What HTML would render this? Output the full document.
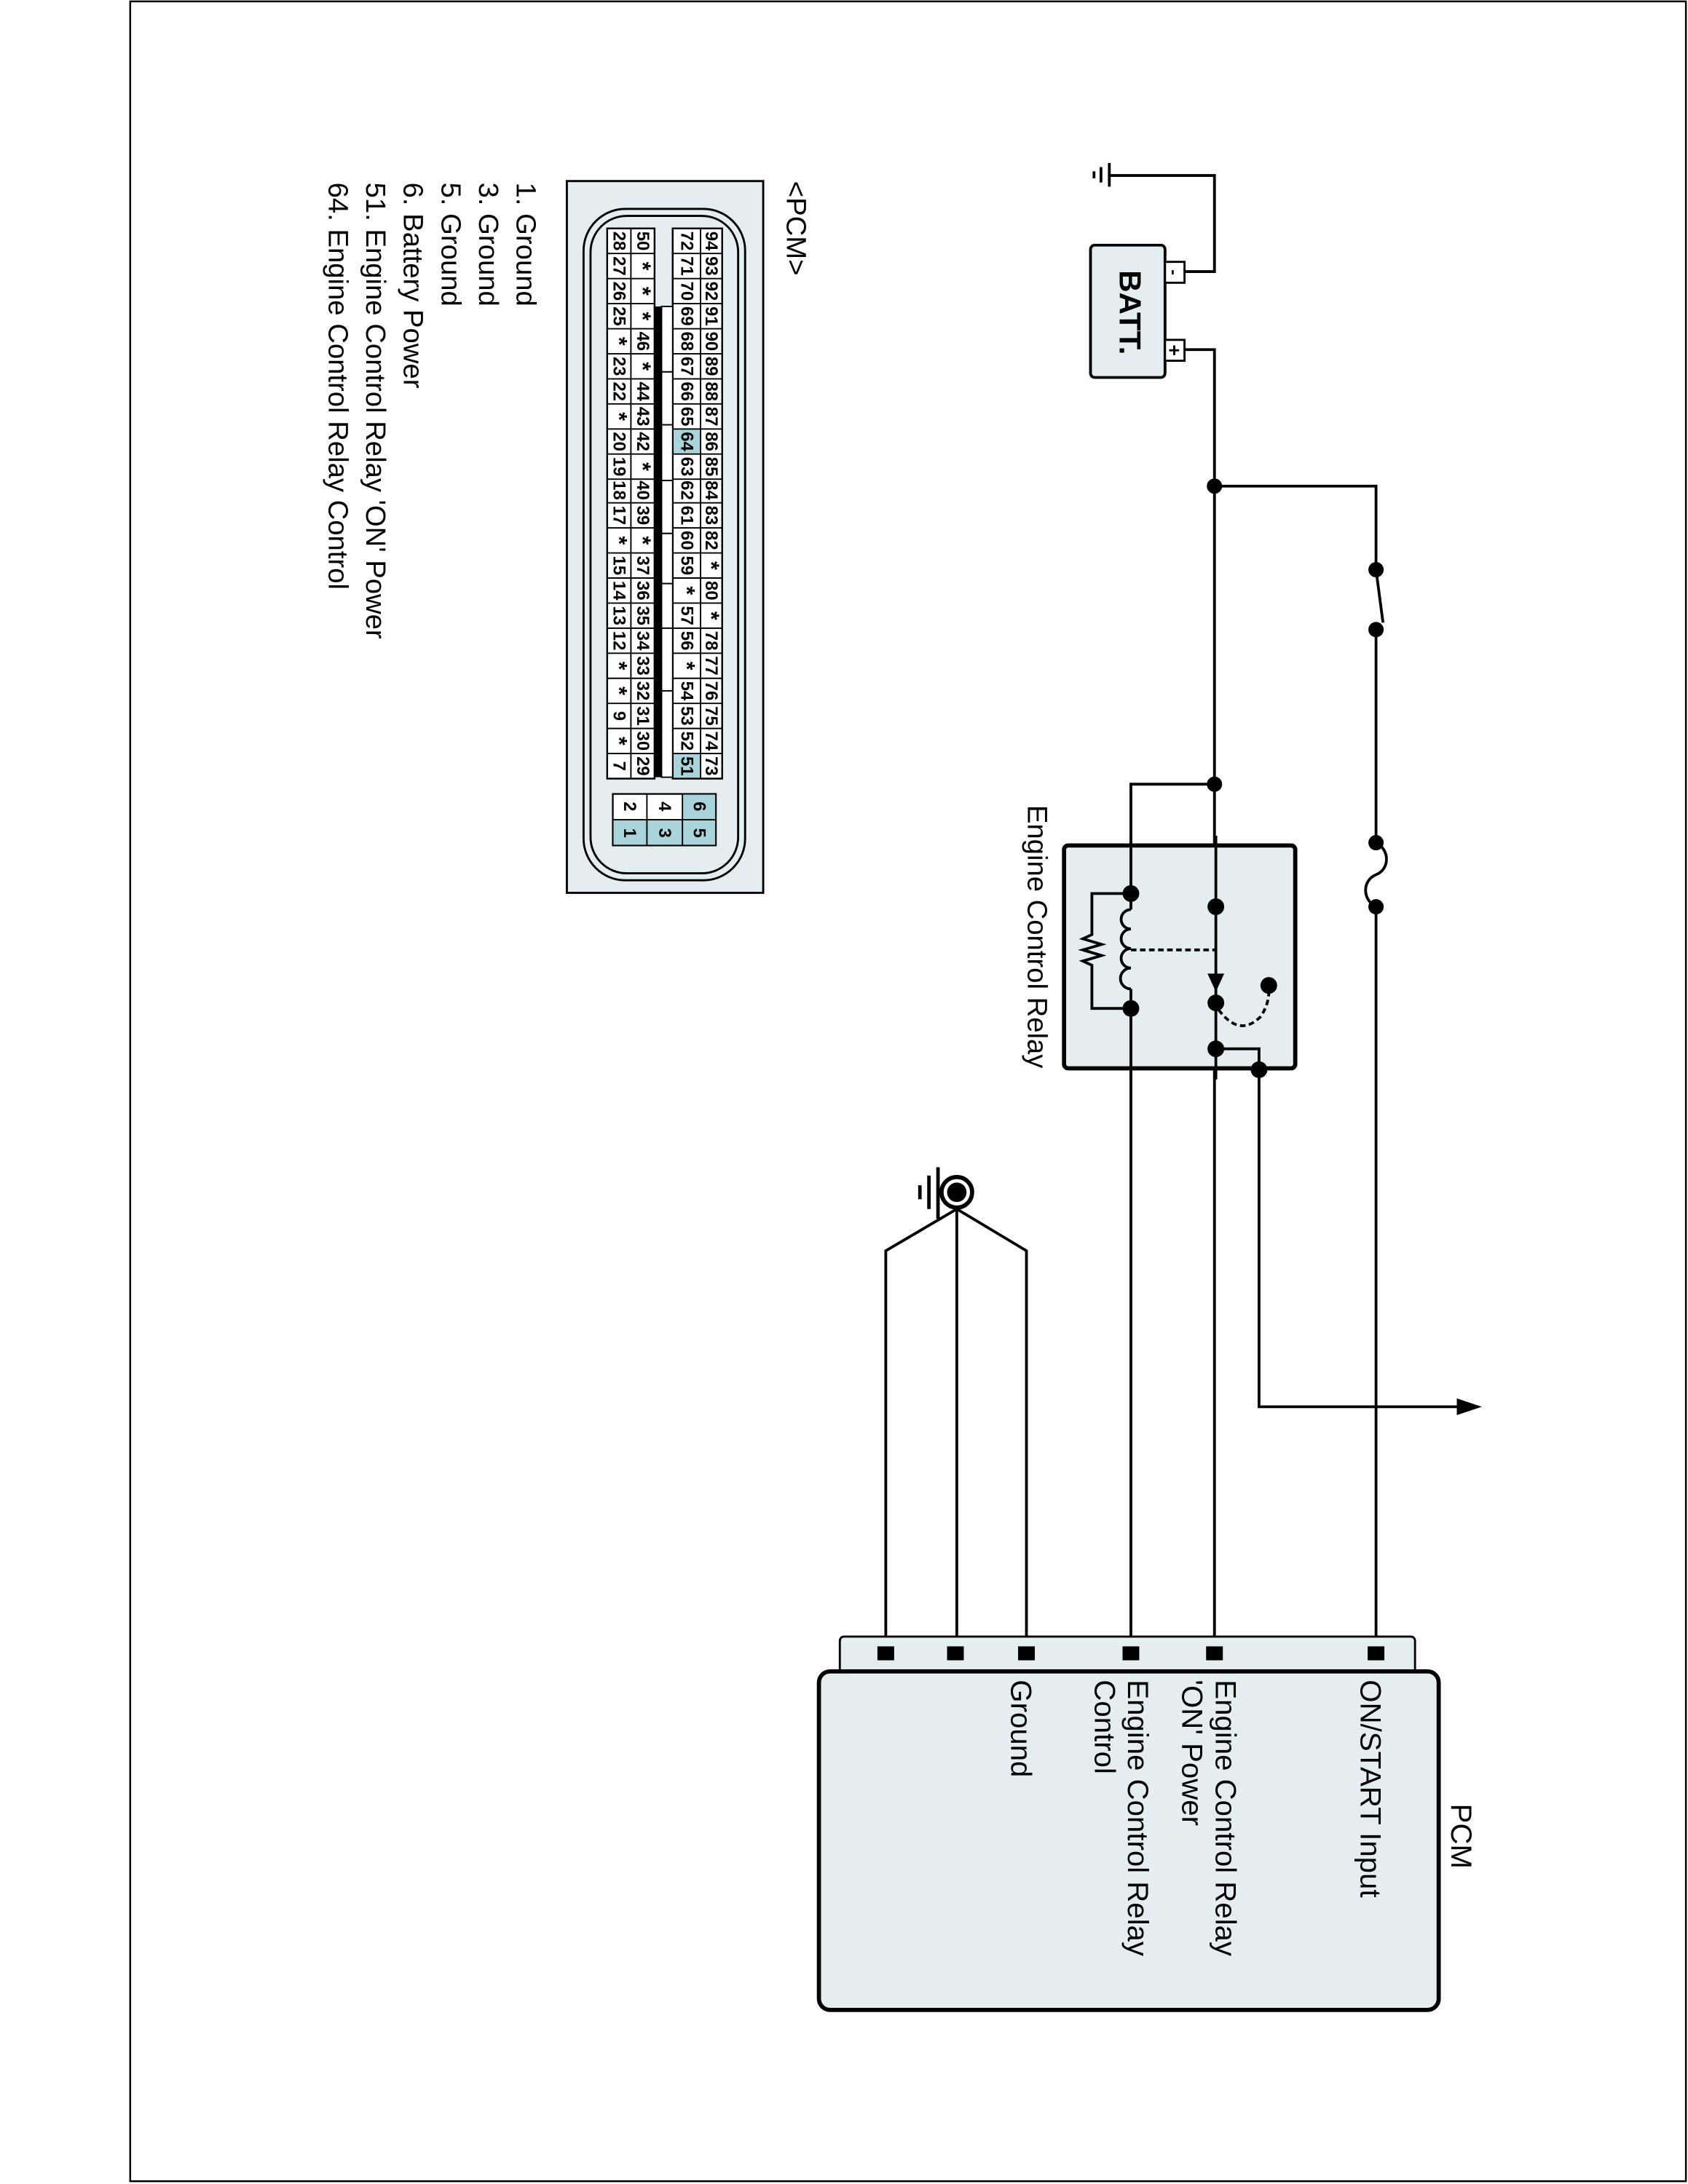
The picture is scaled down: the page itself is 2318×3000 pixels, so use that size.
<!DOCTYPE html>
<html><head><meta charset="utf-8"><style>
html,body{margin:0;padding:0;background:#fff;}
svg{display:block;}
text{font-family:"Liberation Sans",Arial,sans-serif;fill:#000;}
.c{font-size:12.5px;font-weight:bold;}
.s{font-size:16px;font-weight:bold;}
</style></head><body>
<svg width="2318" height="3000" viewBox="0 0 1212 1568" preserveAspectRatio="none" xmlns="http://www.w3.org/2000/svg">
<rect x="0" y="0" width="1212" height="1568" fill="#fff"/>
<rect x="93.5" y="1" width="1117" height="1565" fill="none" stroke="#000" stroke-width="1.3"/>

<g font-size="20">
<text transform="translate(371,131) rotate(90)">1. Ground</text>
<text transform="translate(344,131) rotate(90)">3. Ground</text>
<text transform="translate(317,131) rotate(90)">5. Ground</text>
<text transform="translate(290,131) rotate(90)">6. Battery Power</text>
<text transform="translate(263,131) rotate(90)">51. Engine Control Relay 'ON' Power</text>
<text transform="translate(236,131) rotate(90)">64. Engine Control Relay Control</text>
</g>
<text transform="translate(565,130) rotate(90)" font-size="20">&lt;PCM&gt;</text>

<rect x="407" y="130" width="141" height="511" fill="#e4eef0" stroke="#000" stroke-width="1.5"/>
<rect x="419" y="150" width="116" height="482" rx="30" fill="none" stroke="#000" stroke-width="1.5"/>
<rect x="424" y="155" width="106" height="472" rx="26" fill="none" stroke="#000" stroke-width="1.5"/>
<rect x="436" y="164" width="34" height="395" fill="#fff" stroke="#000" stroke-width="1.2"/>
<rect x="483" y="164" width="35.5" height="395" fill="#fff" stroke="#000" stroke-width="1.2"/>
<rect x="483" y="307.6" width="20" height="17.95" fill="#a9d4dc"/>
<rect x="483" y="541" width="20" height="18" fill="#a9d4dc"/>
<rect x="436" y="164" width="34" height="395" fill="none" stroke="#000" stroke-width="1.2"/>
<rect x="483" y="164" width="35.5" height="395" fill="none" stroke="#000" stroke-width="1.2"/>
<line x1="453" y1="164" x2="453" y2="559" stroke="#000" stroke-width="1"/>
<line x1="503" y1="164" x2="503" y2="559" stroke="#000" stroke-width="1"/>
<g stroke="#000" stroke-width="1">
<line x1="436" x2="470" y1="182" y2="182"/><line x1="436" x2="470" y1="200" y2="200"/><line x1="436" x2="470" y1="218" y2="218"/><line x1="436" x2="470" y1="236" y2="236"/><line x1="436" x2="470" y1="254" y2="254"/><line x1="436" x2="470" y1="272" y2="272"/><line x1="436" x2="470" y1="290" y2="290"/><line x1="436" x2="470" y1="308" y2="308"/><line x1="436" x2="470" y1="326" y2="326"/><line x1="436" x2="470" y1="344" y2="344"/><line x1="436" x2="470" y1="361" y2="361"/><line x1="436" x2="470" y1="379" y2="379"/><line x1="436" x2="470" y1="397" y2="397"/><line x1="436" x2="470" y1="415" y2="415"/><line x1="436" x2="470" y1="433" y2="433"/><line x1="436" x2="470" y1="451" y2="451"/><line x1="436" x2="470" y1="469" y2="469"/><line x1="436" x2="470" y1="487" y2="487"/><line x1="436" x2="470" y1="505" y2="505"/><line x1="436" x2="470" y1="523" y2="523"/><line x1="436" x2="470" y1="541" y2="541"/>
<line x1="483" x2="518.5" y1="182" y2="182"/><line x1="483" x2="518.5" y1="200" y2="200"/><line x1="483" x2="518.5" y1="218" y2="218"/><line x1="483" x2="518.5" y1="236" y2="236"/><line x1="483" x2="518.5" y1="254" y2="254"/><line x1="483" x2="518.5" y1="272" y2="272"/><line x1="483" x2="518.5" y1="290" y2="290"/><line x1="483" x2="518.5" y1="308" y2="308"/><line x1="483" x2="518.5" y1="326" y2="326"/><line x1="483" x2="518.5" y1="344" y2="344"/><line x1="483" x2="518.5" y1="361" y2="361"/><line x1="483" x2="518.5" y1="379" y2="379"/><line x1="483" x2="518.5" y1="397" y2="397"/><line x1="483" x2="518.5" y1="415" y2="415"/><line x1="483" x2="518.5" y1="433" y2="433"/><line x1="483" x2="518.5" y1="451" y2="451"/><line x1="483" x2="518.5" y1="469" y2="469"/><line x1="483" x2="518.5" y1="487" y2="487"/><line x1="483" x2="518.5" y1="505" y2="505"/><line x1="483" x2="518.5" y1="523" y2="523"/><line x1="483" x2="518.5" y1="541" y2="541"/>
</g>
<g>
<rect x="470" y="220" width="5" height="338" fill="#000"/>
<rect x="475" y="220" width="8" height="47" fill="#fff" stroke="#000" stroke-width="1"/>
<rect x="475" y="267" width="8" height="38" fill="#fff" stroke="#000" stroke-width="1"/>
<rect x="475" y="305" width="8" height="40" fill="#fff" stroke="#000" stroke-width="1"/>
<rect x="475" y="345" width="8" height="38" fill="#fff" stroke="#000" stroke-width="1"/>
<rect x="475" y="383" width="8" height="36" fill="#fff" stroke="#000" stroke-width="1"/>
<rect x="475" y="419" width="8" height="32" fill="#fff" stroke="#000" stroke-width="1"/>
<rect x="475" y="451" width="8" height="45" fill="#fff" stroke="#000" stroke-width="1"/>
<rect x="475" y="496" width="8" height="62" fill="#fff" stroke="#000" stroke-width="1"/>
</g>
<g class="c" text-anchor="middle" dominant-baseline="central">
<text transform="translate(510.5,173) rotate(90)">94</text><text transform="translate(510.5,191) rotate(90)">93</text><text transform="translate(510.5,209) rotate(90)">92</text><text transform="translate(510.5,227) rotate(90)">91</text><text transform="translate(510.5,245) rotate(90)">90</text><text transform="translate(510.5,263) rotate(90)">89</text><text transform="translate(510.5,281) rotate(90)">88</text><text transform="translate(510.5,299) rotate(90)">87</text><text transform="translate(510.5,317) rotate(90)">86</text><text transform="translate(510.5,335) rotate(90)">85</text><text transform="translate(510.5,352) rotate(90)">84</text><text transform="translate(510.5,370) rotate(90)">83</text><text transform="translate(510.5,388) rotate(90)">82</text><text class="s" transform="translate(510.5,406) rotate(90)">*</text><text transform="translate(510.5,424) rotate(90)">80</text><text class="s" transform="translate(510.5,442) rotate(90)">*</text><text transform="translate(510.5,460) rotate(90)">78</text><text transform="translate(510.5,478) rotate(90)">77</text><text transform="translate(510.5,496) rotate(90)">76</text><text transform="translate(510.5,514) rotate(90)">75</text><text transform="translate(510.5,532) rotate(90)">74</text><text transform="translate(510.5,550) rotate(90)">73</text>
<text transform="translate(493,173) rotate(90)">72</text><text transform="translate(493,191) rotate(90)">71</text><text transform="translate(493,209) rotate(90)">70</text><text transform="translate(493,227) rotate(90)">69</text><text transform="translate(493,245) rotate(90)">68</text><text transform="translate(493,263) rotate(90)">67</text><text transform="translate(493,281) rotate(90)">66</text><text transform="translate(493,299) rotate(90)">65</text><text transform="translate(493,317) rotate(90)">64</text><text transform="translate(493,335) rotate(90)">63</text><text transform="translate(493,352) rotate(90)">62</text><text transform="translate(493,370) rotate(90)">61</text><text transform="translate(493,388) rotate(90)">60</text><text transform="translate(493,406) rotate(90)">59</text><text class="s" transform="translate(493,424) rotate(90)">*</text><text transform="translate(493,442) rotate(90)">57</text><text transform="translate(493,460) rotate(90)">56</text><text class="s" transform="translate(493,478) rotate(90)">*</text><text transform="translate(493,496) rotate(90)">54</text><text transform="translate(493,514) rotate(90)">53</text><text transform="translate(493,532) rotate(90)">52</text><text transform="translate(493,550) rotate(90)">51</text>
<text transform="translate(461.5,173) rotate(90)">50</text><text class="s" transform="translate(461.5,191) rotate(90)">*</text><text class="s" transform="translate(461.5,209) rotate(90)">*</text><text class="s" transform="translate(461.5,227) rotate(90)">*</text><text transform="translate(461.5,245) rotate(90)">46</text><text class="s" transform="translate(461.5,263) rotate(90)">*</text><text transform="translate(461.5,281) rotate(90)">44</text><text transform="translate(461.5,299) rotate(90)">43</text><text transform="translate(461.5,317) rotate(90)">42</text><text class="s" transform="translate(461.5,335) rotate(90)">*</text><text transform="translate(461.5,352) rotate(90)">40</text><text transform="translate(461.5,370) rotate(90)">39</text><text class="s" transform="translate(461.5,388) rotate(90)">*</text><text transform="translate(461.5,406) rotate(90)">37</text><text transform="translate(461.5,424) rotate(90)">36</text><text transform="translate(461.5,442) rotate(90)">35</text><text transform="translate(461.5,460) rotate(90)">34</text><text transform="translate(461.5,478) rotate(90)">33</text><text transform="translate(461.5,496) rotate(90)">32</text><text transform="translate(461.5,514) rotate(90)">31</text><text transform="translate(461.5,532) rotate(90)">30</text><text transform="translate(461.5,550) rotate(90)">29</text>
<text transform="translate(444.5,173) rotate(90)">28</text><text transform="translate(444.5,191) rotate(90)">27</text><text transform="translate(444.5,209) rotate(90)">26</text><text transform="translate(444.5,227) rotate(90)">25</text><text class="s" transform="translate(444.5,245) rotate(90)">*</text><text transform="translate(444.5,263) rotate(90)">23</text><text transform="translate(444.5,281) rotate(90)">22</text><text class="s" transform="translate(444.5,299) rotate(90)">*</text><text transform="translate(444.5,317) rotate(90)">20</text><text transform="translate(444.5,335) rotate(90)">19</text><text transform="translate(444.5,352) rotate(90)">18</text><text transform="translate(444.5,370) rotate(90)">17</text><text class="s" transform="translate(444.5,388) rotate(90)">*</text><text transform="translate(444.5,406) rotate(90)">15</text><text transform="translate(444.5,424) rotate(90)">14</text><text transform="translate(444.5,442) rotate(90)">13</text><text transform="translate(444.5,460) rotate(90)">12</text><text class="s" transform="translate(444.5,478) rotate(90)">*</text><text class="s" transform="translate(444.5,496) rotate(90)">*</text><text transform="translate(444.5,514) rotate(90)">9</text><text class="s" transform="translate(444.5,532) rotate(90)">*</text><text transform="translate(444.5,550) rotate(90)">7</text>
</g>
<rect x="440" y="570" width="74" height="37" fill="#fff" stroke="#000" stroke-width="1.2"/>
<rect x="490" y="570" width="24" height="37" fill="#a9d4dc"/>
<rect x="464.5" y="588.5" width="25.5" height="18.5" fill="#a9d4dc"/>
<rect x="440" y="588.5" width="24.5" height="18.5" fill="#a9d4dc"/>
<g stroke="#000" stroke-width="1" fill="none">
<rect x="440" y="570" width="74" height="37"/>
<line x1="464.5" y1="570" x2="464.5" y2="607"/><line x1="490" y1="570" x2="490" y2="607"/><line x1="440" y1="588.5" x2="514" y2="588.5"/>
</g>
<g class="c" text-anchor="middle" dominant-baseline="central">
<text transform="translate(502,579) rotate(90)">6</text><text transform="translate(502,598) rotate(90)">5</text>
<text transform="translate(477,579) rotate(90)">4</text><text transform="translate(477,598) rotate(90)">3</text>
<text transform="translate(452,579) rotate(90)">2</text><text transform="translate(452,598) rotate(90)">1</text>
</g>

<g stroke="#000" fill="none" stroke-width="2">
<polyline points="850,195 872,195 872,126 797,126"/>
<line x1="796.5" y1="117" x2="796.5" y2="134"/>
<line x1="790.5" y1="120" x2="790.5" y2="131"/>
<line x1="785.5" y1="123" x2="785.5" y2="128"/>
<polyline points="850,251 872,251 872,1188"/>
</g>
<rect x="783" y="176" width="53.5" height="95" rx="3" fill="#e4eef0" stroke="#000" stroke-width="2"/>
<rect x="836.5" y="188" width="14" height="15" fill="#fff" stroke="#000" stroke-width="1.5"/>
<rect x="836.5" y="244" width="14" height="15" fill="#fff" stroke="#000" stroke-width="1.5"/>
<text transform="translate(843,195.5) rotate(90)" font-size="12" font-weight="bold" text-anchor="middle" dominant-baseline="central">-</text>
<text transform="translate(843,251.5) rotate(90)" font-size="14" font-weight="bold" text-anchor="middle" dominant-baseline="central">+</text>
<text transform="translate(804,194) rotate(90)" font-size="22" font-weight="bold">BATT.</text>

<g stroke="#000" fill="none" stroke-width="2">
<polyline points="872,349 988,349 988,409"/>
<line x1="988" y1="409" x2="993" y2="447"/>
<line x1="988" y1="452" x2="988" y2="605"/>
<path d="M988,605 C998,610 998,624 988,628 C978,632 978,646 988,651"/>
<line x1="988" y1="651" x2="988" y2="1188"/>
<polyline points="872,563 812,563 812,1188"/>
<polyline points="904,768 904,1010 1050,1010"/>
</g>
<polygon points="1064,1010 1046,1004 1046,1016" fill="#000"/>
<g fill="#000">
<circle cx="872" cy="349" r="5.5"/><circle cx="872" cy="563" r="5.5"/>
<circle cx="988" cy="409" r="5.5"/><circle cx="988" cy="452" r="5.5"/>
<circle cx="988" cy="605" r="5.5"/><circle cx="988" cy="651" r="5.5"/>
</g>

<rect x="764" y="607" width="166" height="160" rx="3" fill="#e4eef0" stroke="#000" stroke-width="3"/>
<g stroke="#000" fill="none" stroke-width="2">
<line x1="812" y1="600" x2="812" y2="653"/>
<line x1="812" y1="710" x2="812" y2="775"/>
<path d="M812,653 a7,7 0 0 0 0,14 a7,7 0 0 0 0,14 a7,7 0 0 0 0,14 a7,7 0 0 0 0,15"/>
<polyline points="812,641.5 784,641.5 784,671 777.5,674 791,678 777.5,682 791,686 777.5,690 784,693 784,724 812,724"/>
<line x1="812" y1="682" x2="872" y2="682" stroke-dasharray="4,2.5"/>
<line x1="873" y1="600" x2="873" y2="775"/>
<polyline points="873,753 904,753 904,768"/>
<path d="M875,725 Q890,745 905,730 Q912,720 911,708" stroke-dasharray="4,2.5"/>
</g>
<polygon points="867,699 879,699 873,712" fill="#000"/>
<g fill="#000">
<circle cx="812" cy="641.5" r="6"/><circle cx="812" cy="724" r="6"/>
<circle cx="873" cy="651" r="6"/><circle cx="873" cy="720" r="6"/>
<circle cx="873" cy="753" r="6"/><circle cx="904" cy="768" r="6"/>
<circle cx="911" cy="707.5" r="6"/>
</g>
<text transform="translate(738,578) rotate(90)" font-size="20">Engine Control Relay</text>

<g stroke="#000" fill="none" stroke-width="2">
<polyline points="636,1188 636,898 687,868 737,898 737,1188"/>
<line x1="687" y1="868" x2="687" y2="1188"/>
<line x1="673.5" y1="838" x2="673.5" y2="875" stroke-width="2.5"/>
<line x1="667" y1="844" x2="667" y2="868" stroke-width="2.5"/>
<line x1="660.5" y1="851" x2="660.5" y2="861" stroke-width="2.5"/>
</g>
<circle cx="687" cy="856" r="11" fill="#fff" stroke="#000" stroke-width="3"/>
<circle cx="687" cy="856" r="7" fill="#000"/>

<rect x="603" y="1175" width="413" height="30" rx="3" fill="#e4eef0" stroke="#000" stroke-width="1.5"/>
<g fill="#000">
<rect x="630" y="1182" width="12" height="10"/><rect x="680" y="1182" width="12" height="10"/><rect x="731" y="1182" width="12" height="10"/>
<rect x="806" y="1182" width="12" height="10"/><rect x="866" y="1182" width="12" height="10"/><rect x="982" y="1182" width="12" height="10"/>
</g>
<rect x="588" y="1200" width="445" height="243" rx="8" fill="#e4eef0" stroke="#000" stroke-width="3"/>
<g font-size="21">
<text transform="translate(1042,1295) rotate(90)">PCM</text>
<text transform="translate(977,1206) rotate(90)">ON/START Input</text>
<text transform="translate(873,1206) rotate(90)">Engine Control Relay</text>
<text transform="translate(849,1206) rotate(90)">'ON' Power</text>
<text transform="translate(810,1206) rotate(90)">Engine Control Relay</text>
<text transform="translate(786,1206) rotate(90)">Control</text>
<text transform="translate(726,1206) rotate(90)">Ground</text>
</g>
</svg>
</body></html>
